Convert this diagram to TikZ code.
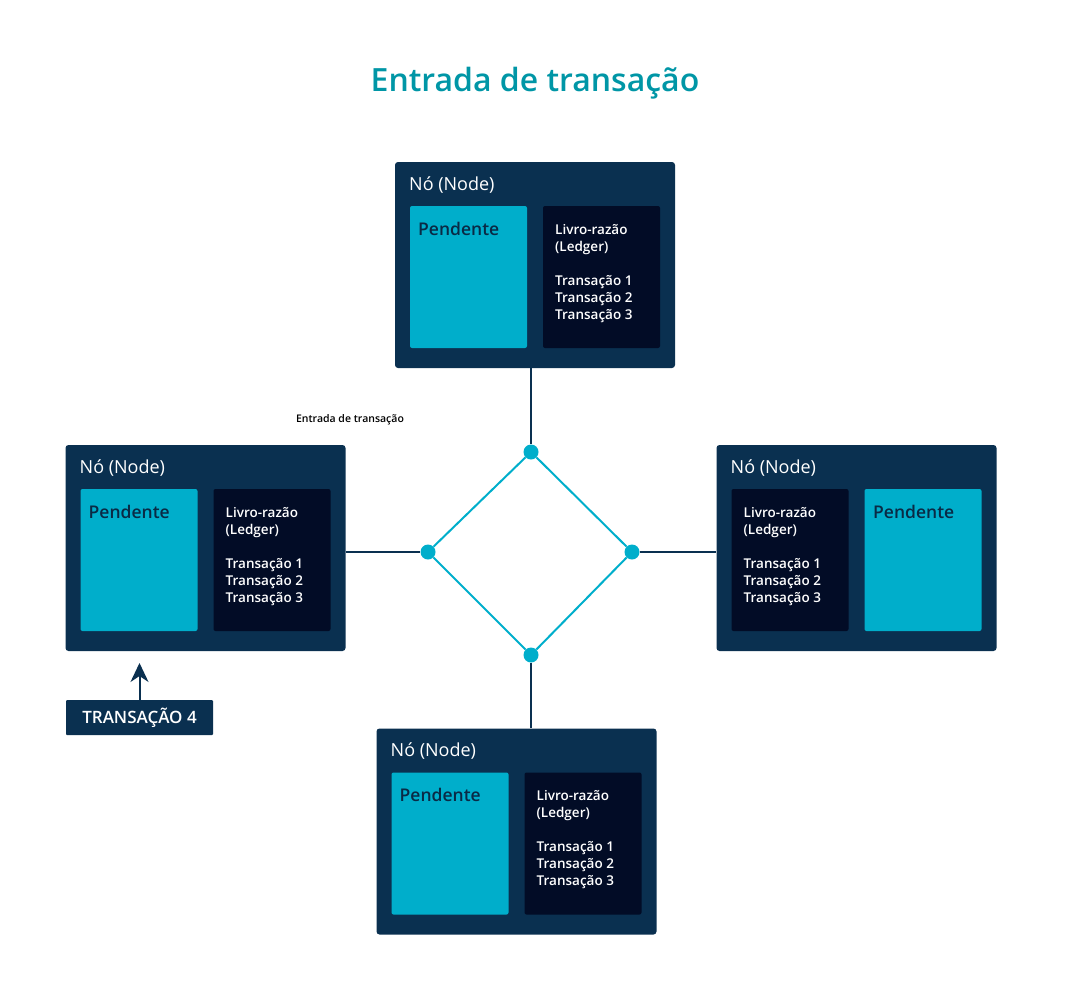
\documentclass[tikz,border=0pt]{standalone}
\usepackage{fontspec}
\setmainfont{Open Sans}[BoldFont={Open Sans Semibold}]
\usetikzlibrary{arrows.meta}
\definecolor{navy}{HTML}{0A3050}
\definecolor{deep}{HTML}{020C26}
\definecolor{cyanbox}{HTML}{00AECB}
\definecolor{teal}{HTML}{0096A6}
\definecolor{pendtxt}{HTML}{0A2A45}
\tikzset{
  nodebox/.style={draw=none,fill=navy,rounded corners=3pt,minimum width=280pt,minimum height=206pt,inner sep=0pt},
  pendbox/.style={fill=cyanbox,rounded corners=2pt,minimum width=117pt,minimum height=142pt,inner sep=0pt},
  ledgerbox/.style={fill=deep,rounded corners=2pt,minimum width=117pt,minimum height=142pt,inner sep=0pt},
  nodetitle/.style={anchor=base west,inner sep=0pt,text=white,font=\fontsize{18}{20}\selectfont},
  pendtext/.style={anchor=base west,inner sep=0pt,text=pendtxt,font=\bfseries\fontsize{17.5}{20}\selectfont},
  ledgertext/.style={anchor=north west,inner sep=0pt,align=left,text=white,font=\bfseries\fontsize{13.5}{17}\selectfont},
  dot/.style={circle,fill=cyanbox,minimum size=15pt,inner sep=0pt},
  link/.style={draw=navy,line width=2pt},
  ring/.style={draw=cyanbox,line width=2pt}
}
\begin{document}
\begin{tikzpicture}[x=1pt,y=-1pt]
  \useasboundingbox (0,0) rectangle (1070,988);
  \node[text=teal,font=\bfseries\fontsize{32}{34}\selectfont,anchor=base] (title) at (535,91) {Entrada de transação};
  % node at the top
  \begin{scope}[shift={(535,265)}]
    \node[nodebox] (ntop) at (0,0) {};
    \node[nodetitle] (ttop) at (-126,-75) {Nó (Node)};
    \node[pendbox] (ptop) at (-66.5,12) {};
    \node[pendtext] (pttop) at (-117,-30) {Pendente};
    \node[ledgerbox] (ltop) at (66.5,12) {};
    \node[ledgertext] (lttop) at (20,-41) {Livro-razão\\(Ledger)\\[17pt]Transação 1\\Transação 2\\Transação 3};
  \end{scope}
  % node on the left
  \begin{scope}[shift={(205.5,548)}]
    \node[nodebox] (nleft) at (0,0) {};
    \node[nodetitle] (tleft) at (-126,-75) {Nó (Node)};
    \node[pendbox] (pleft) at (-66.5,12) {};
    \node[pendtext] (ptleft) at (-117,-30) {Pendente};
    \node[ledgerbox] (lleft) at (66.5,12) {};
    \node[ledgertext] (ltleft) at (20,-41) {Livro-razão\\(Ledger)\\[17pt]Transação 1\\Transação 2\\Transação 3};
  \end{scope}
  % node on the right, boxes swapped
  \begin{scope}[shift={(856.5,548)}]
    \node[nodebox] (nright) at (0,0) {};
    \node[nodetitle] (tright) at (-126,-75) {Nó (Node)};
    \node[ledgerbox] (lright) at (-66.5,12) {};
    \node[ledgertext] (ltright) at (-113,-41) {Livro-razão\\(Ledger)\\[17pt]Transação 1\\Transação 2\\Transação 3};
    \node[pendbox] (pright) at (66.5,12) {};
    \node[pendtext] (ptright) at (16.5,-30) {Pendente};
  \end{scope}
  % node at the bottom
  \begin{scope}[shift={(516.5,831.5)}]
    \node[nodebox] (nbottom) at (0,0) {};
    \node[nodetitle] (tbottom) at (-126,-75) {Nó (Node)};
    \node[pendbox] (pbottom) at (-66.5,12) {};
    \node[pendtext] (ptbottom) at (-117,-30) {Pendente};
    \node[ledgerbox] (lbottom) at (66.5,12) {};
    \node[ledgertext] (ltbottom) at (20,-41) {Livro-razão\\(Ledger)\\[17pt]Transação 1\\Transação 2\\Transação 3};
  \end{scope}
  % ring in the middle
  \node[dot] (dN) at (531,452) {};
  \node[dot] (dW) at (428,552) {};
  \node[dot] (dE) at (632,552) {};
  \node[dot] (dS) at (531,655) {};
  \draw[ring] (dN) -- (dE) -- (dS) -- (dW) -- (dN);
  \draw[link] (dN |- ntop.south) -- (dN);
  \draw[link] (nleft.east |- dW) -- (dW);
  \draw[link] (dE) -- (nright.west |- dE);
  \draw[link] (dS) -- (dS |- nbottom.north);
  \node[anchor=base,inner sep=0pt,font=\bfseries\fontsize{10.5}{12}\selectfont] (entry) at (350,422) {Entrada de transação};
  % incoming transaction
  \node[fill=navy,rounded corners=1pt,text=white,font=\bfseries\fontsize{17}{18}\selectfont,minimum width=147pt,minimum height=35pt,inner sep=0pt] (tx4) at (139.5,717.5) {TRANSAÇÃO 4};
  \coordinate (tip) at (139.5,663);
  \draw[link,-{Stealth[length=19pt,width=18pt,inset=6pt]}] (tx4.north) -- (tip);
\end{tikzpicture}
\end{document}
